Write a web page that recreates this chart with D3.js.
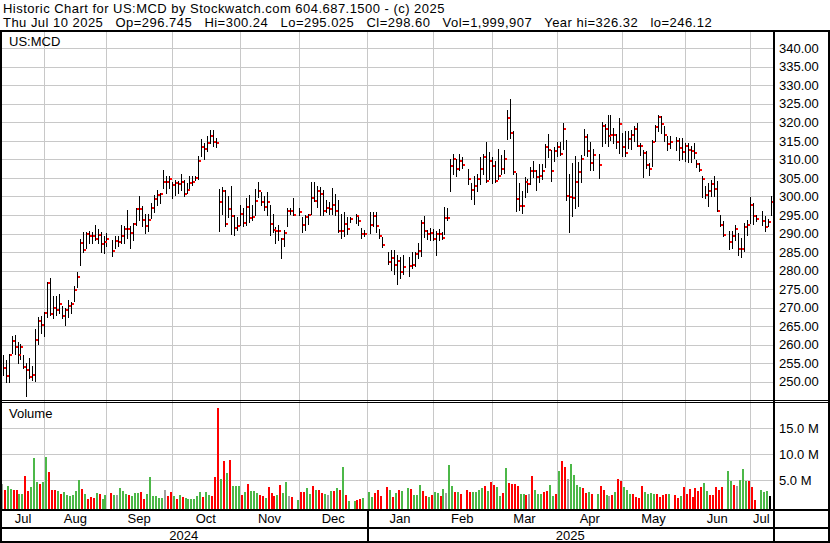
<!DOCTYPE html>
<html><head><meta charset="utf-8">
<script src="https://cdn.jsdelivr.net/npm/d3@7"></script>
<style>
body{margin:0;background:#fff}
svg{display:block}
text{font-family:"Liberation Sans",Arial,sans-serif;fill:#000}
</style></head>
<body><svg id="c" width="830" height="543"></svg>
<script>
// ---------------- data ----------------
const startDate = "2024-07-12", endDate = "2025-07-10";
const holidays = ["2024-09-02","2024-11-28","2024-12-25","2025-01-01","2025-01-09","2025-01-20",
  "2025-02-17","2025-04-18","2025-05-26","2025-06-19","2025-07-04"];
const highs = [
 257.2,255.9,257.5,262.3,262.6,260.8,260.2,257.2,255.1,256.3,254.2,264.1,267.5,267.7,
 268.9,277.0,277.9,273.0,273.0,273.8,270.3,269.8,272.1,271.6,275.8,279.7,288.4,290.3,290.5,290.8,290.5,292.3,291.1,290.5,289.3,290.1,
 288.3,289.2,289.2,292.3,291.9,296.3,291.9,292.8,297.0,300.1,297.5,295.4,295.2,298.3,300.4,301.8,301.0,307.2,305.4,305.4,
 304.0,304.5,304.3,306.1,304.5,303.6,305.4,305.6,305.5,310.8,315.4,314.5,316.2,318.0,318.0,315.7,301.9,302.6,301.7,300.0,302.8,295.0,294.5,
 297.7,297.0,299.5,300.4,297.7,301.9,303.8,301.3,300.1,301.3,297.7,295.4,291.8,292.3,288.9,290.9,296.8,297.0,299.5,297.0,
 294.5,295.0,295.2,304.0,303.8,302.8,302.6,301.7,299.0,298.6,302.2,300.8,299.0,295.4,295.9,294.5,294.5,295.4,295.0,291.4,290.9,
 295.9,295.9,295.9,291.1,289.1,285.1,285.5,285.5,284.2,283.7,284.2,283.7,285.1,285.1,287.4,293.6,294.7,291.0,291.5,291.3,
 290.8,291.1,290.5,297.2,296.9,310.2,311.6,310.2,311.6,310.6,307.3,303.7,305.4,306.1,310.6,311.6,314.7,312.0,310.6,
 309.7,312.9,311.1,312.5,323.4,326.3,317.8,306.3,303.6,301.6,305.3,304.8,308.0,309.7,307.1,308.9,308.9,314.1,316.8,312.5,313.4,
 314.7,314.7,319.8,315.2,306.0,309.0,311.0,309.4,311.2,318.2,317.0,314.7,312.9,311.6,320.0,319.5,321.9,322.1,318.5,316.9,321.2,
 317.1,317.6,317.6,318.0,318.9,319.8,314.4,312.5,312.2,309.0,315.3,319.4,321.9,321.6,318.9,316.2,316.2,316.0,315.8,315.8,314.4,
 314.4,313.5,314.4,309.9,309.0,305.4,302.7,303.6,304.5,305.4,304.1,295.1,293.5,290.8,290.6,292.4,290.1,288.8,292.8,293.7,
 299.9,298.2,295.1,296.0,294.6,294.0,300.24];
const lows = [
 251.8,250.0,250.0,257.8,257.5,255.1,256.1,253.6,246.2,251.1,250.4,250.3,260.3,263.2,
 262.3,267.5,268.0,267.1,268.0,268.6,267.1,265.3,267.6,268.5,271.9,275.5,281.5,285.1,286.0,287.4,287.5,288.3,287.5,285.1,284.8,286.5,
 283.8,286.0,286.5,287.4,287.5,288.7,286.0,288.2,292.3,293.7,291.9,290.2,290.7,294.1,295.9,297.7,298.3,302.2,300.9,302.2,
 299.5,300.4,300.9,301.8,300.2,300.9,302.2,303.1,304.5,304.6,310.9,310.0,312.4,314.4,313.5,313.3,290.7,295.4,292.0,294.5,290.0,289.6,290.9,
 292.3,292.0,292.3,293.2,293.6,295.0,299.9,297.7,296.3,295.0,289.6,290.5,287.5,288.2,283.4,286.5,292.0,295.4,295.0,294.9,
 290.5,290.9,292.7,295.4,298.8,297.2,295.0,295.0,295.9,295.4,295.4,295.0,290.5,288.9,289.3,290.0,293.2,292.9,292.3,288.7,289.3,
 290.2,292.0,290.5,288.7,286.4,281.9,280.1,279.2,276.5,277.9,279.2,278.5,280.6,281.1,283.3,283.8,289.1,288.6,288.2,288.2,
 284.2,288.2,288.4,290.0,293.6,301.5,306.2,305.4,307.1,307.7,303.5,299.2,297.9,301.5,303.5,306.2,303.9,304.8,303.6,
 303.9,304.8,306.2,306.4,315.6,315.7,306.2,296.1,296.3,295.5,299.9,301.2,303.5,305.3,301.7,303.9,304.8,308.0,310.6,304.2,309.7,
 310.8,311.1,312.9,299.0,290.4,294.7,296.8,297.3,304.0,311.1,310.8,307.2,307.1,305.1,313.5,314.5,313.5,315.3,314.4,313.1,311.7,
 310.8,310.8,313.1,312.9,314.9,313.5,311.3,305.2,307.7,305.7,308.1,314.9,317.6,317.1,314.9,312.6,313.1,312.6,309.9,310.2,309.5,
 309.3,309.3,310.4,307.9,307.0,299.8,299.6,297.3,300.0,300.0,296.2,291.9,289.2,285.9,286.1,288.3,284.3,283.6,285.2,289.7,
 292.8,292.6,293.3,292.4,290.6,291.9,295.025];
const closes = [
 253.8,251.6,257.3,261.1,259.4,257.3,259.4,254.1,253.2,251.4,251.9,261.3,266.5,265.4,
 268.6,276.7,268.3,269.9,269.4,271.0,267.7,269.4,270.3,271.0,274.8,278.3,287.5,285.6,289.8,289.2,289.3,288.6,289.7,287.2,287.7,288.6,
 285.4,288.1,287.8,289.3,291.2,291.2,290.2,292.5,296.6,296.6,293.7,292.1,293.7,296.8,299.2,300.5,300.6,303.8,303.8,304.7,
 303.1,303.6,303.4,303.8,300.7,301.8,303.7,304.0,305.1,309.6,313.3,312.9,314.5,316.4,314.7,314.5,298.6,301.5,292.5,296.7,294.7,291.5,292.0,
 295.2,292.9,297.2,294.1,294.5,298.8,301.5,298.6,297.2,298.6,292.7,290.9,290.7,290.7,288.4,290.2,296.1,296.1,295.0,295.9,
 292.4,294.5,295.1,299.5,298.8,301.5,300.8,296.1,296.8,296.5,297.8,296.0,290.7,290.6,292.5,291.2,293.9,294.8,293.4,289.8,289.8,
 292.3,294.8,292.0,289.3,287.0,282.3,283.4,281.5,282.5,279.7,281.0,281.2,281.4,284.4,285.4,292.8,290.8,289.8,290.1,288.6,
 289.8,290.0,288.8,294.2,294.2,308.1,310.1,307.3,309.7,308.4,304.7,301.7,302.8,304.6,307.4,310.7,304.2,309.7,308.2,
 304.2,305.4,307.3,310.1,321.2,317.2,306.6,299.4,297.4,297.3,303.9,303.5,306.8,306.8,305.3,305.4,306.9,313.4,312.5,306.9,312.3,
 313.4,311.6,318.2,300.0,299.9,299.7,304.0,306.7,310.0,316.0,312.4,309.0,311.2,308.5,319.0,318.2,316.2,316.7,316.7,314.6,319.6,
 313.4,311.8,315.6,316.7,318.1,313.5,313.7,311.8,308.6,307.5,314.6,318.7,321.4,319.7,316.5,314.3,314.6,314.9,313.1,311.9,313.7,
 312.6,312.4,311.7,308.9,307.2,304.8,300.5,301.6,303.3,301.9,296.2,292.4,289.7,287.6,289.4,291.3,285.8,285.8,291.7,292.2,
 297.6,294.6,294.0,293.5,291.7,293.1,298.60];
const volumes = [ // millions of shares
 4.3,3.1,3.9,3.3,3.1,3.1,2.4,2.4,5.8,2.9,3.7,9.3,4.7,4.3,
 4.7,9.5,6.6,3.1,3.1,2.9,2.4,2.8,2.2,1.9,2.2,2.9,5.1,3.3,2.4,1.4,1.8,1.6,2.6,2.4,1.4,2.2,
 2.6,2.2,2.1,3.5,2.9,2.4,2.2,2.0,2.6,2.6,2.8,1.4,2.4,5.6,2.0,2.0,1.6,1.6,3.1,2.0,
 2.8,2.0,1.4,2.2,1.8,1.6,1.4,1.4,1.4,2.0,2.8,1.8,2.8,2.2,2.0,5.6,19.0,5.3,8.7,6.4,8.9,3.9,3.9,
 3.9,2.2,2.8,4.3,2.9,2.9,2.6,2.2,2.0,1.6,3.7,2.6,2.0,2.2,4.1,2.6,4.7,2.0,1.8,1.2,
 2.8,2.8,3.5,2.4,3.9,3.1,3.1,2.6,2.4,2.2,2.9,2.9,3.5,3.1,7.6,2.2,1.0,1.0,1.2,1.4,1.6,
 2.8,1.8,2.6,3.1,2.0,3.7,3.1,1.8,2.6,3.1,2.9,3.5,3.3,2.1,2.2,4.1,2.9,2.0,1.8,2.2,
 2.8,2.6,2.0,3.3,2.6,7.9,3.9,2.8,2.8,2.4,3.1,2.8,2.8,2.8,3.1,3.5,3.9,2.9,4.7,
 4.1,3.7,2.0,2.6,7.4,4.5,4.3,4.3,3.9,2.4,2.4,2.2,2.4,5.8,3.1,2.4,2.4,2.8,2.9,4.1,2.0,
 2.4,6.8,8.7,7.6,5.3,8.1,6.0,4.1,3.7,3.5,2.6,2.8,2.4,2.4,3.9,3.1,2.2,2.0,2.2,2.8,5.3,
 4.9,3.7,3.1,2.4,2.4,1.8,1.6,3.9,2.8,2.4,2.6,2.4,2.4,1.8,2.2,2.4,2.4,2.2,1.6,2.0,3.7,
 2.4,3.3,1.8,3.5,2.9,3.7,4.5,2.9,2.2,2.2,3.7,3.1,3.7,6.8,4.9,4.1,3.9,5.1,7.2,4.9,
 4.9,3.7,1.2,3.1,2.8,2.9,2.0];
const volDirection = ( // g = up, r = down, n = unchanged
 "nrggrrggrrgggr"+"ggrrrgrggggggrgrrrgrgg"+"rgngggrgggrrggggggnr"+"rgrgrggggggrggrrrgrgrgg"+
 "grgrgggrrgrrrgrggnrg"+"rrggrgrrgngrgrgrggrrg"+"ggrrrrgrgrggrgggrrgr"+"ggrgnggrgrrrggggrgr"+
 "rggrgrrrrggrnrgggrrgg"+"rgrrnggggrrgrgrrgnrg"+"rrgggrrrrggggrrrrgrrg"+"rrrrrrrggrrrrrggrngg"+"grrrggg").split("");
const monthLabels = ["Jul","Aug","Sep","Oct","Nov","Dec","Jan","Feb","Mar","Apr","May","Jun","Jul"];
const yearLabels = ["2024","2025"];
const priceTicks = [250,255,260,265,270,275,280,285,290,295,300,305,310,315,320,325,330,335,340];
const volumeTicks = [5,10,15];
const headerLine1 = "Historic Chart for US:MCD by Stockwatch.com 604.687.1500 - (c) 2025";
const headerLine2 = ["Thu Jul 10 2025","Op=296.745","Hi=300.24","Lo=295.025","Cl=298.60","Vol=1,999,907","Year hi=326.32","lo=246.12"];

// ---------------- build ----------------
const parse = d3.utcParse("%Y-%m-%d"), fmt = d3.utcFormat("%Y-%m-%d");
const weekdays = d3.utcDays(parse(startDate), d3.utcDay.offset(parse(endDate), 1))
  .filter(d => d.getUTCDay() !== 0 && d.getUTCDay() !== 6);
const hol = new Set(holidays);
const tradeIdx = [];
weekdays.forEach((d, i) => { if (!hol.has(fmt(d))) tradeIdx.push(i); });
const data = tradeIdx.map((wi, k) => ({wi, hi: highs[k], lo: lows[k], cl: closes[k], v: volumes[k], dir: volDirection[k]}));

const W = 830, H = 543;
const plotL = 2, plotR = 773;
const x = d3.scaleLinear().domain([0, weekdays.length - 1]).range([2.7, 770.6]);
const yP = d3.scaleLinear().domain([250, 340]).range([381.7, 48.3]);
const yV = d3.scaleLinear().domain([0, 15]).range([506.3, 428.3]);
const volBase = 509;

const svg = d3.select("#c");
svg.append("rect").attr("width", W).attr("height", H).attr("fill", "#fff");
const px = v => Math.round(v) + 0.5;
const grid = "#c8c8c8";

// month grid positions: latest weekday on/before the 1st of month
const monthStarts = d3.utcMonths(parse("2024-08-01"), parse("2025-07-02"));
const monthX = monthStarts.map(m => x(d3.bisectRight(weekdays, m) - 1));

// gridlines
const g = svg.append("g").attr("shape-rendering", "crispEdges");
g.selectAll(".hp").data(priceTicks).join("line")
  .attr("x1", plotL).attr("x2", plotR).attr("y1", d => px(yP(d))).attr("y2", d => px(yP(d)))
  .attr("stroke", grid);
g.selectAll(".hv").data(volumeTicks).join("line")
  .attr("x1", plotL).attr("x2", plotR).attr("y1", d => px(yV(d))).attr("y2", d => px(yV(d)))
  .attr("stroke", grid);
g.selectAll(".vg").data(monthX).join("line")
  .attr("x1", d => px(d)).attr("x2", d => px(d)).attr("y1", 32).attr("y2", 509)
  .attr("stroke", grid);

// price bars (high-low) + close tick
const bars = svg.append("g").attr("shape-rendering", "crispEdges");
bars.selectAll(".b").data(data).join("rect")
  .attr("x", d => Math.round(x(d.wi)))
  .attr("y", d => Math.round(yP(d.hi)))
  .attr("width", 1)
  .attr("height", d => Math.max(1, Math.round(yP(d.lo)) - Math.round(yP(d.hi)) + 1))
  .attr("fill", "#000");
bars.selectAll(".t").data(data).join("rect")
  .attr("x", d => Math.round(x(d.wi)) + 1)
  .attr("y", d => Math.round(yP(d.cl)) - 1)
  .attr("width", 2).attr("height", 2)
  .attr("fill", "#ff0000");

// volume bars
const volColor = {g: "#4cb848", r: "#ff0000", n: "#a0a0a0"};
bars.selectAll(".v").data(data).join("rect")
  .attr("x", d => Math.round(x(d.wi)) - 2)
  .attr("y", d => Math.round(yV(d.v)))
  .attr("width", 2)
  .attr("height", d => volBase - Math.round(yV(d.v)))
  .attr("fill", d => volColor[d.dir]);

// frame lines
const f = svg.append("g").attr("shape-rendering", "crispEdges").attr("fill", "#000");
f.append("rect").attr("x", 0).attr("y", 30).attr("width", W).attr("height", 2);
f.append("rect").attr("x", 0).attr("y", 30).attr("width", 2).attr("height", H - 30);
f.append("rect").attr("x", plotR).attr("y", 30).attr("width", 2).attr("height", H - 30);
f.append("rect").attr("x", W - 2).attr("y", 30).attr("width", 2).attr("height", H - 30);
f.append("rect").attr("x", 0).attr("y", 400).attr("width", W).attr("height", 1);
f.append("rect").attr("x", 0).attr("y", 402).attr("width", W).attr("height", 1);
f.append("rect").attr("x", 0).attr("y", 509).attr("width", W).attr("height", 2);
f.append("rect").attr("x", 0).attr("y", 527).attr("width", W).attr("height", 2);
f.append("rect").attr("x", 0).attr("y", 541).attr("width", W).attr("height", 2);
const janX = Math.round(monthX[5]);
f.append("rect").attr("x", janX).attr("y", 509).attr("width", 2).attr("height", H - 509);

// axis labels
const fs = 13;
svg.append("g").selectAll("text").data(priceTicks).join("text")
  .attr("x", 779).attr("y", d => yP(d) + 4.6).attr("font-size", fs).text(d => d.toFixed(2));
svg.append("g").selectAll("text").data(volumeTicks).join("text")
  .attr("x", 779).attr("y", d => yV(d) + 4.8).attr("font-size", fs).text(d => d.toFixed(1) + " M");

const bounds = [plotL, ...monthX, plotR];
svg.append("g").selectAll("text").data(monthLabels).join("text")
  .attr("x", (d, i) => (bounds[i] + bounds[i + 1]) / 2).attr("y", 523)
  .attr("text-anchor", "middle").attr("font-size", fs).text(d => d);
const yb = [0, monthX[5], plotR];
svg.append("g").selectAll("text").data(yearLabels).join("text")
  .attr("x", (d, i) => (yb[i] + yb[i + 1]) / 2).attr("y", 539.5)
  .attr("text-anchor", "middle").attr("font-size", fs).text(d => d);

svg.append("text").attr("x", 9).attr("y", 45.5).attr("font-size", fs).text("US:MCD");
svg.append("text").attr("x", 9).attr("y", 418).attr("font-size", fs).text("Volume");

// header
svg.append("text").attr("x", 3).attr("y", 12.5).attr("font-size", fs)
  .attr("letter-spacing", 0.47).text(headerLine1);
svg.append("text").attr("x", 3).attr("y", 27).attr("font-size", fs)
  .attr("letter-spacing", 0.47).attr("xml:space", "preserve").text(headerLine2.join("   "));
</script></body></html>
